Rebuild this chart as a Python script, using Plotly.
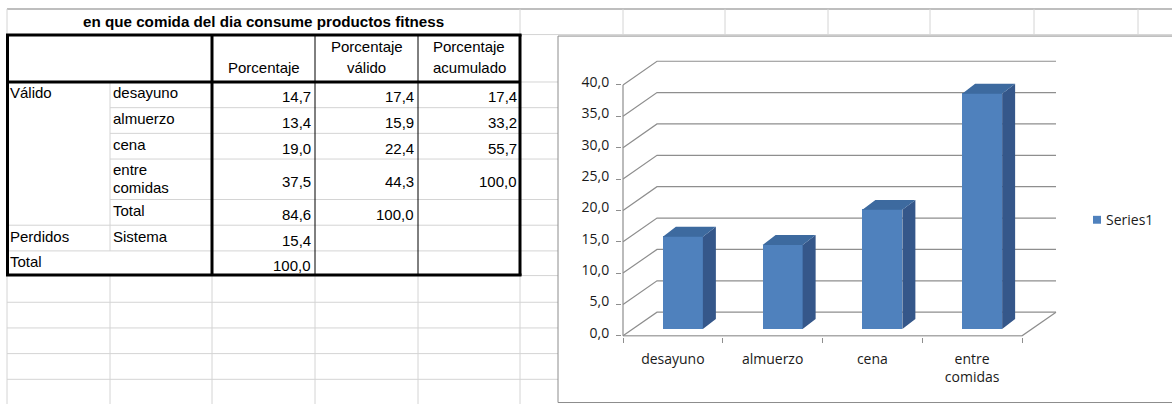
import plotly.graph_objects as go

# ---------------------------------------------------------------- data
titulo = "en que comida del dia consume productos fitness"
encabezados = [["Porcentaje"], ["Porcentaje", "válido"], ["Porcentaje", "acumulado"]]
categorias = ["desayuno", "almuerzo", "cena", "entre comidas"]
porcentaje = [14.7, 13.4, 19.0, 37.5]
porcentaje_valido = [17.4, 15.9, 22.4, 44.3]
porcentaje_acumulado = [17.4, 33.2, 55.7, 100.0]
total_validos = [84.6, 100.0]
perdidos_sistema = 15.4
total_general = 100.0

etiquetas_eje_x = ["desayuno", "almuerzo", "cena", "entre<br>comidas"]
valores_eje_y = [0, 5, 10, 15, 20, 25, 30, 35, 40]
nombre_serie = "Series1"

# ---------------------------------------------------------------- canvas helpers
W, H = 1172, 409


def fx(x):
    return x / W


def fy(y):
    return 1 - y / H


def num(v):
    return f"{v:.1f}".replace(".", ",")


shapes = []
annotations = []

GRID_LIGHT = "#D4D4D4"
GRID_DARK = "#A8A8A8"
BLACK = "#000000"


def pline(x0, y0, x1, y1, color, width):
    shapes.append(dict(type="line", xref="paper", yref="paper",
                       x0=fx(x0), y0=fy(y0), x1=fx(x1), y1=fy(y1),
                       line=dict(color=color, width=width), layer="below"))


TABLE_FONT = "Liberation Sans"
TABLE_SIZE = 15


def ptext(x, y, s, anchor="left", size=TABLE_SIZE, bold=False, family=TABLE_FONT,
          color="#000000"):
    annotations.append(dict(xref="paper", yref="paper", x=fx(x), y=fy(y), text=s,
                            showarrow=False, xanchor=anchor, yanchor="middle",
                            borderpad=0,
                            font=dict(family=family, size=size, color=color,
                                      weight="bold" if bold else "normal")))


# ---------------------------------------------------------------- worksheet grid
col_x = [7, 110, 212, 315, 418, 520]
far_cols = [623, 725, 828, 930, 1034, 1138]
row_y = [35, 83, 109, 135, 161, 202, 228, 254, 279]
lower_rows = [306, 332, 358, 384]

pline(7, 9, W, 9, GRID_DARK, 1.5)
pline(7, 9, 7, H, GRID_LIGHT, 1)
pline(520, 9, 520, 35, GRID_LIGHT, 1)
for x in far_cols:
    pline(x, 9, x, 35, GRID_LIGHT, 1)
pline(520, 35, W, 35, GRID_LIGHT, 1)
for y in row_y[1:] + lower_rows:
    pline(520, y, 560, y, GRID_LIGHT, 1)
for y in lower_rows:
    pline(7, y, 520, y, GRID_LIGHT, 1)
for x in col_x[1:]:
    pline(x, 279, x, H, GRID_LIGHT, 1)

# ---------------------------------------------------------------- frequency table
# light inner rules
pline(110, 83, 110, 254, GRID_LIGHT, 1)
for y in [109, 135, 161, 202]:
    pline(110, y, 520, y, GRID_LIGHT, 1)
for y in [228, 254]:
    pline(7, y, 520, y, GRID_LIGHT, 1)
# black frame
pline(315, 35, 315, 279, BLACK, 1)
pline(418, 35, 418, 279, BLACK, 1)
pline(6, 35.5, 521.5, 35.5, BLACK, 3)
pline(6, 278.5, 521.5, 278.5, BLACK, 3)
pline(7.5, 35, 7.5, 279, BLACK, 3)
pline(520, 35, 520, 279, BLACK, 3)
pline(7, 83, 520, 83, BLACK, 3)
pline(212, 35, 212, 279, BLACK, 3)

ptext(263.5, 22, titulo, anchor="center", bold=True, size=15.2)

col_centers = [263.5, 366.5, 469]
for cx, lines in zip(col_centers, encabezados):
    ys = [68] if len(lines) == 1 else [47, 68]
    for yy, s in zip(ys, lines):
        ptext(cx, yy, s, anchor="center")

right_edges = [312, 414.5, 517.5]
row_tops = [83, 109, 135, 161]
row_bots = [109, 135, 161, 202]

ptext(9, 94, "Válido")
for k, cat in enumerate(categorias):
    top, bot = row_tops[k], row_bots[k]
    words = cat.split(" ")
    if len(words) == 1:
        ptext(112, top + 11, cat)
    else:
        for j, w in enumerate(words):
            ptext(112, top + 11 + 18 * j, w)
    yc = (top + bot) / 2 + 2
    for xr, vals in zip(right_edges, [porcentaje, porcentaje_valido, porcentaje_acumulado]):
        ptext(xr, yc, num(vals[k]), anchor="right")

ptext(112, 213, "Total")
ptext(right_edges[0], 217, num(total_validos[0]), anchor="right")
ptext(right_edges[1], 217, num(total_validos[1]), anchor="right")
ptext(9, 239, "Perdidos")
ptext(112, 239, "Sistema")
ptext(right_edges[0], 243, num(perdidos_sistema), anchor="right")
ptext(9, 265, "Total")
ptext(right_edges[0], 268.5, num(total_general), anchor="right")

# ---------------------------------------------------------------- chart frame
shapes.append(dict(type="rect", xref="paper", yref="paper",
                   x0=fx(558), y0=fy(407.5), x1=fx(W + 5), y1=fy(36.5),
                   fillcolor="white", line=dict(color="#8C8C8C", width=1), layer="below"))

# ---------------------------------------------------------------- 3-D column chart geometry
CAT_PX = 99.75          # pixels per category slot on the front plane
VAL_PX = 6.35           # pixels per value unit
FRONT_X0 = 623          # x of the front-left corner (category -0.5)
FRONT_Y0 = 340          # y of the front floor (value 0)

x_lo = -0.5 - 1 / CAT_PX
x_hi = -0.5 + (1059 - FRONT_X0) / CAT_PX
y_lo = -1 / VAL_PX
y_hi = (FRONT_Y0 - 60) / VAL_PX

DXU = 34 / CAT_PX       # wall depth
DYU = 24 / VAL_PX
BX = 10 / CAT_PX        # bar front plane offset
BY = 7 / VAL_PX
BDX = 13 / CAT_PX       # bar depth
BDY = 10 / VAL_PX
BW = 40 / CAT_PX        # bar width

FRONT = "#4F81BD"
SIDE = "#35578A"
TOP = "#3D6A9F"
WALL = "#8E8E8E"

x_back_right = 3.5 + DXU
for v in valores_eje_y:
    shapes.append(dict(type="path", xref="x", yref="y", layer="below",
                       path=f"M-0.5,{v} L{-0.5 + DXU},{v + DYU} L{x_back_right},{v + DYU}",
                       line=dict(color=WALL, width=1.2)))
shapes.append(dict(type="path", xref="x", yref="y", layer="below",
                   path=f"M-0.5,0 L3.5,0 L{x_back_right},{DYU}",
                   line=dict(color=WALL, width=1.2)))
shapes.append(dict(type="path", xref="x", yref="y", layer="below",
                   path=f"M-0.5,0 L-0.5,{valores_eje_y[-1]}",
                   line=dict(color=WALL, width=1.2)))

fig = go.Figure()

fig.add_trace(go.Bar(
    x=[i + BX for i in range(len(porcentaje))], y=porcentaje, base=BY, width=BW,
    marker=dict(color=FRONT, line=dict(width=0)), name=nombre_serie,
    showlegend=False, hoverinfo="y"))

side_x, side_y, top_x, top_y = [], [], [], []
for i, v in enumerate(porcentaje):
    xl = i + BX - BW / 2
    xr = i + BX + BW / 2
    side_x += [xr, xr + BDX, xr + BDX, xr, xr, None]
    side_y += [BY, BY + BDY, BY + v + BDY, BY + v, BY, None]
    top_x += [xl, xr, xr + BDX, xl + BDX, xl, None]
    top_y += [BY + v, BY + v, BY + v + BDY, BY + v + BDY, BY + v, None]

fig.add_trace(go.Scatter(x=side_x, y=side_y, mode="lines", fill="toself",
                         fillcolor=SIDE, line=dict(width=0, color=SIDE),
                         hoverinfo="skip", showlegend=False))
fig.add_trace(go.Scatter(x=top_x, y=top_y, mode="lines", fill="toself",
                         fillcolor=TOP, line=dict(width=0, color=TOP),
                         hoverinfo="skip", showlegend=False))

# legend entry
shapes.append(dict(type="rect", xref="paper", yref="paper",
                   x0=fx(1093), x1=fx(1101), y0=fy(226.5), y1=fy(218.5),
                   fillcolor=FRONT, line=dict(width=0), layer="above"))
ptext(1104.5, 222.5, nombre_serie, family="Open Sans", size=14, color="#1a1a1a")

CHART_FONT = dict(family="Open Sans", size=14, color="#1a1a1a")

fig.update_layout(
    width=W, height=H, autosize=False,
    margin=dict(l=0, r=0, t=0, b=0, pad=0),
    paper_bgcolor="white", plot_bgcolor="rgba(0,0,0,0)",
    separators=",.",
    showlegend=False,
    bargap=0,
    shapes=shapes, annotations=annotations,
    xaxis=dict(domain=[fx(622), fx(1059)], range=[x_lo, x_hi], anchor="y",
               tickmode="array", tickvals=list(range(len(etiquetas_eje_x))),
               ticktext=etiquetas_eje_x, ticks="", showgrid=False,
               zeroline=False, showline=False, tickfont=CHART_FONT,
               ticklabelstandoff=12,
               minor=dict(tickmode="array", tickvals=[-0.5, 0.5, 1.5, 2.5, 3.5],
                          ticks="outside", ticklen=5, tickcolor=WALL, tickwidth=1.2,
                          showgrid=False)),
    yaxis=dict(domain=[fy(341), fy(60)], range=[y_lo, y_hi], anchor="x",
               tickmode="array", tickvals=valores_eje_y, tickformat=".1f",
               ticks="outside", ticklen=5, tickcolor=WALL, tickwidth=1.2,
               showgrid=False, zeroline=False, showline=False,
               tickfont=CHART_FONT, ticklabelstandoff=4, ticklabelshift=-3),
)

fig.write_html("out.html")
